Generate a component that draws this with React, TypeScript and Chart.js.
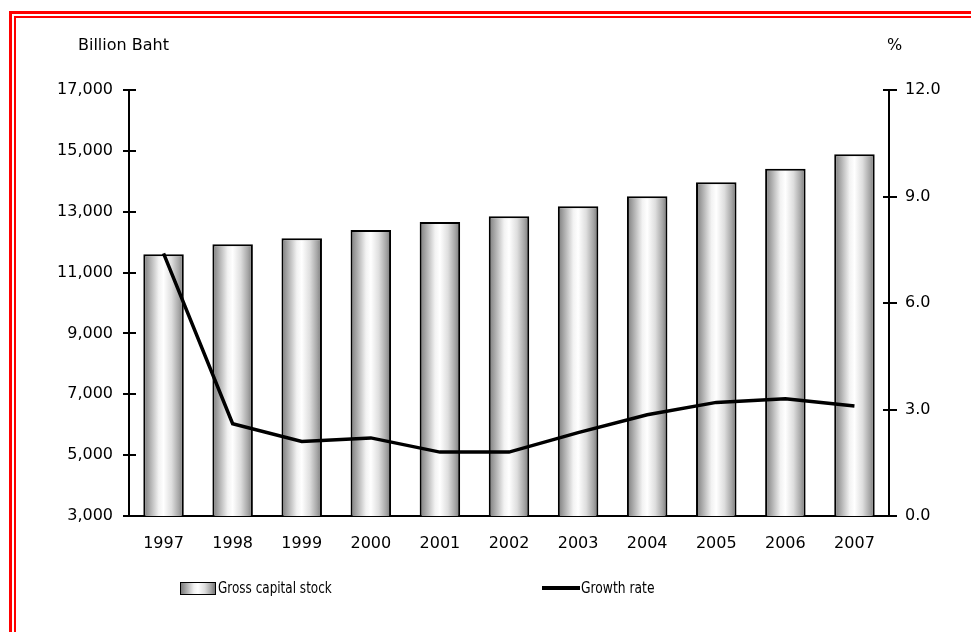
import React, { useEffect, useRef } from "react";
import { Chart, registerables } from "chart.js";

Chart.register(...registerables);

const years = ["1997", "1998", "1999", "2000", "2001", "2002", "2003", "2004", "2005", "2006", "2007"];
const capitalStock = [11600, 11930, 12130, 12400, 12660, 12850, 13180, 13510, 13970, 14410, 14890];
const growthRate = [7.4, 2.6, 2.1, 2.2, 1.8, 1.8, 2.35, 2.85, 3.2, 3.3, 3.1];

const leftMin = 3000;
const leftMax = 17000;
const leftStep = 2000;
const rightMin = 0;
const rightMax = 12;
const rightStep = 3;

const BAR_PCT = 0.586;
const TICK_FONT = { family: "'DejaVu Sans', Verdana, sans-serif", size: 16 };

function barFill(context: any) {
  const chart = context.chart;
  const xs = chart.scales && chart.scales.x;
  if (!xs || context.type !== "data" || !chart.chartArea) return "#cccccc";
  const x = xs.getPixelForValue(context.dataIndex);
  const w = (xs.width / years.length) * BAR_PCT;
  if (!isFinite(x) || !isFinite(w)) return "#cccccc";
  const g = chart.ctx.createLinearGradient(x - w / 2, 0, x + w / 2, 0);
  g.addColorStop(0, "#7a7a7a");
  g.addColorStop(0.15, "#a9a9a9");
  g.addColorStop(0.38, "#f2f2f2");
  g.addColorStop(0.5, "#ffffff");
  g.addColorStop(0.7, "#dedede");
  g.addColorStop(0.88, "#a6a6a6");
  g.addColorStop(1, "#767676");
  return g;
}

const innerTicksPlugin = {
  id: "innerTicks",
  afterDatasetsDraw(chart: any) {
    const ctx = chart.ctx;
    const yl = chart.scales.y;
    const yr = chart.scales.y1;
    ctx.save();
    ctx.strokeStyle = "#000";
    ctx.lineWidth = 2;
    ctx.beginPath();
    yl.ticks.forEach((t: any) => {
      const py = Math.round(yl.getPixelForValue(t.value));
      if (t.value === leftMin) return;
      ctx.moveTo(yl.right, py);
      ctx.lineTo(yl.right + 7, py);
    });
    yr.ticks.forEach((t: any) => {
      const py = Math.round(yr.getPixelForValue(t.value));
      if (t.value === rightMin) return;
      ctx.moveTo(yr.left - 6, py);
      ctx.lineTo(yr.left, py);
    });
    ctx.stroke();
    ctx.restore();
  },
};

export default function App() {
  const canvasRef = useRef<HTMLCanvasElement | null>(null);

  useEffect(() => {
    document.body.style.margin = "0";
    const canvas = canvasRef.current;
    if (!canvas) return;
    const chart = new Chart(canvas, {
      data: {
        labels: years,
        datasets: [
          {
            type: "bar",
            label: "Gross capital stock",
            data: capitalStock,
            yAxisID: "y",
            backgroundColor: barFill,
            borderColor: "#000",
            borderWidth: 2,
            barPercentage: BAR_PCT,
            categoryPercentage: 1,
            order: 1,
          },
          {
            type: "line",
            label: "Growth rate",
            data: growthRate,
            yAxisID: "y1",
            borderColor: "#000",
            borderWidth: 3.5,
            pointRadius: 0,
            tension: 0,
            fill: false,
            order: 0,
          },
        ],
      } as any,
      options: {
        responsive: false,
        animation: false,
        devicePixelRatio: 1,
        layout: { padding: { top: 90, left: 0, right: 0, bottom: 0 } },
        plugins: {
          legend: { display: false },
          tooltip: { enabled: false },
        },
        scales: {
          x: {
            type: "category",
            offset: true,
            grid: { display: false, drawTicks: false },
            border: { display: true, color: "#000", width: 2 },
            ticks: { color: "#000", font: TICK_FONT, padding: 18, maxRotation: 0 },
            afterFit: (s: any) => {
              s.height = 116;
            },
          },
          y: {
            type: "linear",
            position: "left",
            min: leftMin,
            max: leftMax,
            grid: {
              drawOnChartArea: false,
              drawTicks: true,
              tickLength: 6,
              color: "#000",
              lineWidth: 2,
            },
            border: { display: true, color: "#000", width: 2 },
            ticks: {
              stepSize: leftStep,
              color: "#000",
              font: TICK_FONT,
              padding: 10,
              callback: (v: any) => Number(v).toLocaleString("en-US"),
            },
            afterFit: (s: any) => {
              s.width = 129;
            },
          },
          y1: {
            type: "linear",
            position: "right",
            min: rightMin,
            max: rightMax,
            grid: {
              drawOnChartArea: false,
              drawTicks: true,
              tickLength: 8,
              color: "#000",
              lineWidth: 2,
            },
            border: { display: true, color: "#000", width: 2 },
            ticks: {
              stepSize: rightStep,
              color: "#000",
              font: TICK_FONT,
              padding: 8,
              callback: (v: any) => Number(v).toFixed(1),
            },
            afterFit: (s: any) => {
              s.width = 82;
            },
          },
        },
      } as any,
      plugins: [innerTicksPlugin],
    });
    return () => chart.destroy();
  }, []);

  const textFont = "'DejaVu Sans', Verdana, sans-serif";
  const legendFont = "'DejaVu Sans Condensed', 'DejaVu Sans', sans-serif";

  return (
    <div style={{ position: "relative", width: 971, height: 632, overflow: "hidden", background: "#fff" }}>
      <div
        style={{
          position: "absolute",
          left: 9,
          top: 11,
          width: 1000,
          height: 700,
          border: "3px solid #ff0000",
          boxSizing: "border-box",
        }}
      />
      <div
        style={{
          position: "absolute",
          left: 14,
          top: 16,
          width: 1000,
          height: 700,
          border: "2.5px solid #ff0000",
          boxSizing: "border-box",
        }}
      />
      <canvas
        ref={canvasRef}
        width={971}
        height={632}
        style={{ position: "absolute", left: 0, top: 0, width: 971, height: 632, display: "block" }}
      />
      <div
        style={{
          position: "absolute",
          left: 78,
          top: 37,
          fontFamily: textFont,
          fontSize: 16,
          lineHeight: "16px",
          color: "#000",
          whiteSpace: "nowrap",
        }}
      >
        Billion Baht
      </div>
      <div
        style={{
          position: "absolute",
          left: 887,
          top: 37,
          fontFamily: textFont,
          fontSize: 16,
          lineHeight: "16px",
          color: "#000",
          whiteSpace: "nowrap",
        }}
      >
        %
      </div>
      <div
        style={{
          position: "absolute",
          left: 180,
          top: 582,
          width: 36,
          height: 12.5,
          boxSizing: "border-box",
          border: "1.5px solid #000",
          background:
            "linear-gradient(to right, #7a7a7a 0%, #a9a9a9 15%, #f2f2f2 38%, #ffffff 50%, #dedede 70%, #a6a6a6 88%, #767676 100%)",
        }}
      />
      <div
        style={{
          position: "absolute",
          left: 218,
          top: 580,
          fontFamily: legendFont,
          fontSize: 16.5,
          lineHeight: "16.5px",
          color: "#000",
          whiteSpace: "nowrap",
          transform: "scaleX(0.81)",
          transformOrigin: "left center",
        }}
      >
        Gross capital stock
      </div>
      <div
        style={{
          position: "absolute",
          left: 542,
          top: 586,
          width: 38,
          height: 3.5,
          background: "#000",
        }}
      />
      <div
        style={{
          position: "absolute",
          left: 581,
          top: 580,
          fontFamily: legendFont,
          fontSize: 16.5,
          lineHeight: "16.5px",
          color: "#000",
          whiteSpace: "nowrap",
          transform: "scaleX(0.83)",
          transformOrigin: "left center",
        }}
      >
        Growth rate
      </div>
    </div>
  );
}
